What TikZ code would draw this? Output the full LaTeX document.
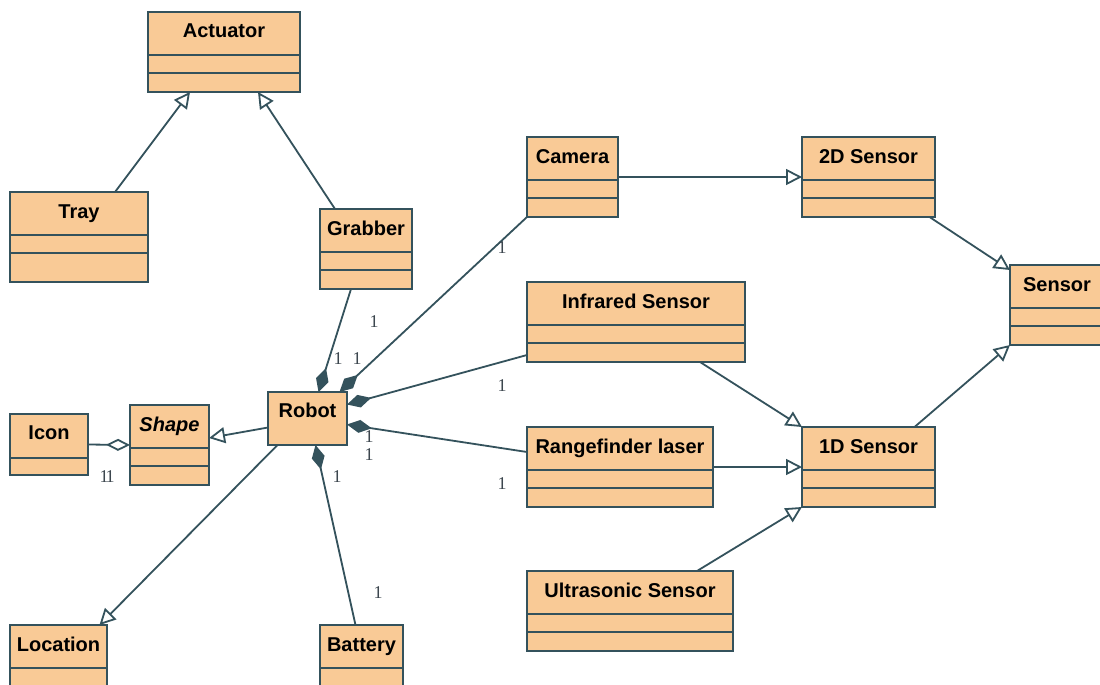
\documentclass[tikz,border=0pt]{standalone}
\usepackage{fontspec}
\setmainfont{Liberation Sans}
\newfontfamily\multfont{Liberation Serif}
\usetikzlibrary{arrows.meta}

\definecolor{clsfill}{RGB}{249,202,150}
\definecolor{clsedge}{RGB}{52,82,92}
\definecolor{multcol}{RGB}{60,70,78}

\tikzset{
  clsbox/.style={draw=clsedge, fill=clsfill, line width=1.8pt, inner sep=0pt,
    outer sep=0pt, minimum height=80pt, anchor=north west},
  clstitle/.style={font=\fontsize{20}{24}\selectfont\bfseries, text height=14pt,
    text depth=4pt, inner sep=0pt},
  sepline/.style={draw=clsedge, line width=1.8pt},
  gen/.style={draw=clsedge, line width=1.8pt,
    -{Triangle[open, length=16pt, width=16pt]}},
  comp/.style={draw=clsedge, line width=1.8pt,
    {Diamond[length=25pt, width=13pt]}-},
  aggr/.style={draw=clsedge, line width=1.8pt,
    -{Diamond[open, length=24pt, width=12pt]}},
  mult/.style={font=\multfont\fontsize{18}{20}\selectfont, text=multcol, inner sep=0pt},
}

% UML class with a title compartment and two empty compartments
% [#1 height], #2 name, #3 left, #4 top, #5 width, #6 title
\newcommand\umlclass[6][80]{%
  \node[clsbox, minimum width=#5pt, minimum height=#1pt] (#2) at (#3,#4) {};
  \node[clstitle] (#2-title) at ([yshift=-21pt]#2.north) {#6};
  \draw[sepline] ([yshift=-43pt]#2.north west) -- ([yshift=-43pt]#2.north east);
  \draw[sepline] ([yshift=-61pt]#2.north west) -- ([yshift=-61pt]#2.north east);
}

\begin{document}
\begin{tikzpicture}[x=1pt, y=-1pt]
  \useasboundingbox (0,0) rectangle (1100,685);
  \fill[white] (0,0) rectangle (1100,685);
  \clip (0,0) rectangle (1100,685);

  % classes
  \umlclass{actuator}{148}{12}{152}{Actuator}
  \umlclass[90]{tray}{10}{192}{138}{Tray}
  \umlclass{grabber}{320}{209}{92}{Grabber}
  \umlclass{camera}{527}{137}{91}{Camera}
  \umlclass{sensorTwoD}{802}{137}{133}{2D Sensor}
  \umlclass{infrared}{527}{282}{218}{Infrared Sensor}
  \umlclass{sensor}{1010}{265}{94}{Sensor}
  \umlclass{sensorOneD}{802}{427}{133}{1D Sensor}
  \umlclass{rangefinder}{527}{427}{186}{Rangefinder laser}
  \umlclass{ultrasonic}{527}{571}{206}{Ultrasonic Sensor}
  \umlclass{location}{10}{625}{97}{Location}
  \umlclass{battery}{320}{625}{83}{Battery}
  \umlclass{shape}{130}{405}{79}{\itshape Shape}

  \node[clsbox, minimum width=79pt, minimum height=53pt] (robot) at (268,392) {};
  \node[clstitle] (robot-title) at ([yshift=-20pt]robot.north) {Robot};

  \node[clsbox, minimum width=78pt, minimum height=61pt] (icon) at (10,414) {};
  \node[clstitle] (icon-title) at ([yshift=-20pt]icon.north) {Icon};
  \draw[sepline] ([yshift=-44pt]icon.north west) -- ([yshift=-44pt]icon.north east);

  % generalizations
  \draw[gen] ([xshift=36pt]tray.north) -- ([xshift=-34pt]actuator.south);
  \draw[gen] ([xshift=-31pt]grabber.north) -- ([xshift=34pt]actuator.south);
  \draw[gen] (camera.east) -- (sensorTwoD.west);
  \draw[gen] ([xshift=61pt]sensorTwoD.south) -- ([yshift=-5pt]sensor.north west);
  \draw[gen] ([xshift=46pt]sensorOneD.north) -- (sensor.south west);
  \draw[gen] ([xshift=64pt]infrared.south) -- (sensorOneD.north west);
  \draw[gen] (rangefinder.east) -- (sensorOneD.west);
  \draw[gen] ([xshift=67pt]ultrasonic.north) -- (sensorOneD.south west);
  \draw[gen] ([yshift=-9pt]robot.west) -- ([yshift=7pt]shape.east);
  \draw[gen] ([xshift=-30pt]robot.south) -- ([xshift=41pt]location.north);

  % aggregation
  \draw[aggr] (icon.east) -- (shape.west);

  % compositions
  \draw[comp] ([xshift=11pt]robot.north) -- ([xshift=-15pt]grabber.south);
  \draw[comp] ([xshift=32pt]robot.north) -- (camera.south west);
  \draw[comp] ([yshift=14pt]robot.east) -- ([yshift=-33pt]infrared.west);
  \draw[comp] ([yshift=-6pt]robot.east) -- ([yshift=15pt]rangefinder.west);
  \draw[comp] ([xshift=8pt]robot.south) -- ([xshift=-6pt]battery.north);

  % multiplicities
  \node[mult] (m-camera) at (502,248) {1};
  \node[mult] (m-robot-cam) at (374,322) {1};
  \node[mult] (m-robot-grab) at (338,359) {1};
  \node[mult] (m-grabber) at (357,359) {1};
  \node[mult] (m-infrared) at (502,386) {1};
  \node[mult] (m-robot-ir) at (369,437) {1};
  \node[mult] (m-robot-rf) at (369,455) {1};
  \node[mult] (m-rangefinder) at (502,484) {1};
  \node[mult] (m-robot-bat) at (337,477) {1};
  \node[mult] (m-battery) at (378,593) {1};
  \node[mult] (m-icon) at (104,477) {1};
  \node[mult] (m-shape) at (110,477) {1};
\end{tikzpicture}
\end{document}
